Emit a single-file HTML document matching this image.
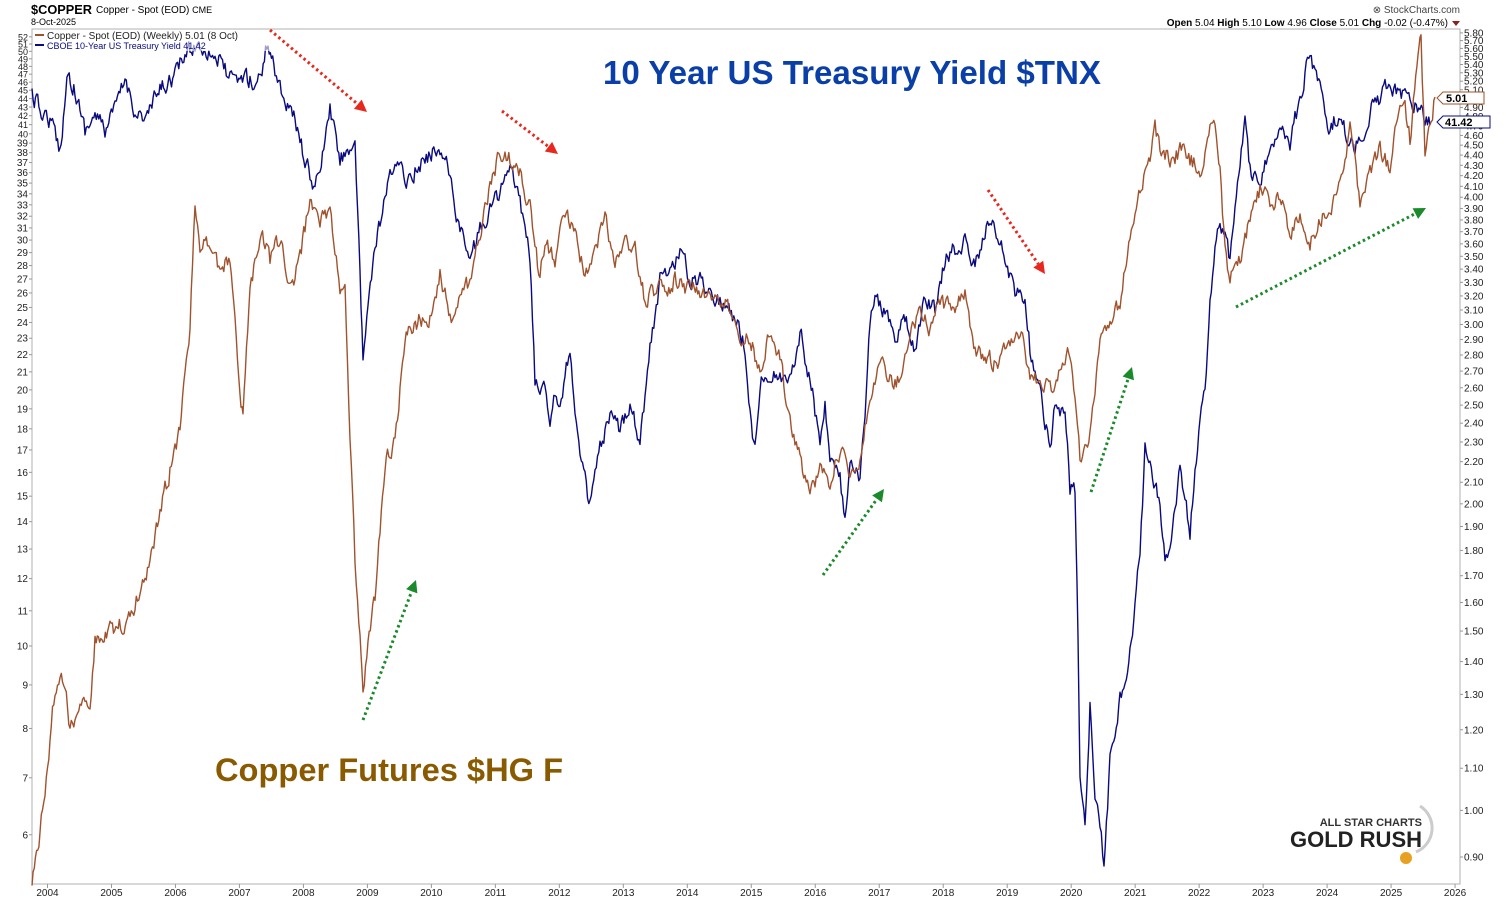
<!DOCTYPE html>
<html><head><meta charset="utf-8">
<style>
html,body{margin:0;padding:0;background:#fff;}
body{width:1506px;height:903px;overflow:hidden;font-family:"Liberation Sans",sans-serif;}
svg text{font-family:"Liberation Sans",sans-serif;}
</style></head><body>
<svg id="c" width="1506" height="903" xmlns="http://www.w3.org/2000/svg">
<rect width="1506" height="903" fill="#fff"/>
<text x="31" y="14" font-size="13" font-weight="bold" textLength="61" lengthAdjust="spacingAndGlyphs">$COPPER</text>
<text x="96" y="13" font-size="10">Copper - Spot (EOD) <tspan font-size="9">CME</tspan></text>
<text x="31" y="25" font-size="9">8-Oct-2025</text>
<text x="1460" y="13" font-size="10" text-anchor="end" fill="#444">⊗ StockCharts.com</text>
<text x="1448" y="26" font-size="10" text-anchor="end"><tspan font-weight="bold">Open</tspan> 5.04 <tspan font-weight="bold">High</tspan> 5.10 <tspan font-weight="bold">Low</tspan> 4.96 <tspan font-weight="bold">Close</tspan> 5.01 <tspan font-weight="bold">Chg</tspan> -0.02 (-0.47%)</text>
<polygon points="1452,21 1460,21 1456,26" fill="#8a2020"/>
<rect x="32" y="29" width="1428" height="855" fill="none" stroke="#b0b0b0" stroke-width="1"/>
<g id="axes" font-size="10" fill="#222"></g>
<g id="series"></g>
<rect x="33" y="31" width="258" height="20" fill="#fff" opacity="0.6"/>
<line x1="35" y1="35" x2="44" y2="35" stroke="#a0522d" stroke-width="2"/>
<text x="47" y="39" font-size="10" fill="#222">Copper - Spot (EOD) (Weekly) 5.01 (8 Oct)</text>
<line x1="35" y1="45" x2="44" y2="45" stroke="#0a0a80" stroke-width="2"/>
<text x="47" y="49" font-size="9" fill="#0a0a80">CBOE 10-Year US Treasury Yield 41.42</text>
<g id="arrows"></g>
<text x="603" y="84" font-size="33" font-weight="bold" fill="#0b3fa8" textLength="498" lengthAdjust="spacingAndGlyphs">10 Year US Treasury Yield $TNX</text>
<text x="215" y="781" font-size="32.5" font-weight="bold" fill="#8a5a00" textLength="348" lengthAdjust="spacingAndGlyphs">Copper Futures $HG F</text>
<text x="1422" y="826" font-size="11" font-weight="bold" fill="#333" text-anchor="end">ALL STAR CHARTS</text>
<text x="1422" y="847" font-size="22" font-weight="bold" fill="#222" text-anchor="end">GOLD RUSH</text>
<path d="M1420,806 A26,26 0 0 1 1416,852" fill="none" stroke="#ccc" stroke-width="3"/>
<circle cx="1406" cy="858" r="6" fill="#e8a020"/>
<polygon points="1437,98 1443,92 1484,92 1484,104 1443,104" fill="#fff" stroke="#a0522d"/>
<text x="1446" y="102" font-size="11" font-weight="bold">5.01</text>
<polygon points="1437,122 1443,116 1490,116 1490,128 1443,128" fill="#fff" stroke="#0a0a80"/>
<text x="1445" y="126" font-size="11" font-weight="bold">41.42</text>
</svg>
<script>
const NS="http://www.w3.org/2000/svg";
function el(t,a,p){const e=document.createElementNS(NS,t);for(const k in a)e.setAttribute(k,a[k]);if(p)p.appendChild(e);return e;}
const ax=document.getElementById('axes');
const L=[52,51,50,49,48,47,46,45,44,43,42,41,40,39,38,37,36,35,34,33,32,31,30,29,28,27,26,25,24,23,22,21,20,19,18,17,16,15,14,13,12,11,10,9,8,7,6];
L.forEach(v=>{const y=646-369.5*Math.log(v/10);el('line',{x1:29,x2:32,y1:y,y2:y,stroke:'#999'},ax);const t=el('text',{x:28,y:y+3.5,'text-anchor':'end','font-size':v>=40?'9':'10'},ax);t.textContent=v;});
const R=[];for(let v=580;v>=90;v-=10){R.push(v/100);}
R.forEach(v=>{const y=857-442.3*Math.log(v/0.9);
 const show=(v<=1.0)?(Math.abs(v-0.9)<1e-6||Math.abs(v-1.0)<1e-6):(v<2.0?Math.abs(v*10-Math.round(v*10))<1e-6:true);
 if(!show)return;
 el('line',{x1:1460,x2:1463,y1:y,y2:y,stroke:'#999'},ax);
 const t=el('text',{x:1464,y:y+3.5,'font-size':'10'},ax);t.textContent=v.toFixed(2);});
for(let yr=2004;yr<=2026;yr++){const x=47.5+(yr-2004)*63.98;el('line',{x1:x,x2:x,y1:884,y2:888,stroke:'#999'},ax);const t=el('text',{x:x,y:896,'text-anchor':'middle','font-size':'10'},ax);t.textContent=yr;}
let seed=12345;function rnd(){seed=(seed*16807)%2147483647;return seed/2147483647;}
function build(pts,amp){let d='';let first=true;let prev=0;
 for(let i=0;i<pts.length-1;i++){const [x0,y0]=pts[i],[x1,y1]=pts[i+1];const n=Math.max(1,Math.round((x1-x0)/1.2));
  for(let j=0;j<n;j++){const f=j/n;const x=x0+(x1-x0)*f;let y=y0+(y1-y0)*f;prev=prev*0.45+(rnd()-0.5)*amp;y+=prev;
   d+=(first?'M':'L')+x.toFixed(1)+','+y.toFixed(1);first=false;}}
 const lp=pts[pts.length-1];d+='L'+lp[0]+','+lp[1];return d;}
const cu=[[32,880],[40,830],[45,790],[50,740],[55,690],[60,672],[65,690],[70,730],[80,700],[90,700],[95,640],[110,630],[130,620],[140,590],[150,560],[160,510],[170,470],[180,430],[190,330],[195,200],[200,250],[210,240],[220,270],[230,260],[235,310],[240,400],[243,420],[250,290],[260,230],[270,260],[280,240],[290,290],[300,260],[310,200],[320,220],[330,210],[340,290],[345,280],[350,440],[355,560],[360,640],[363,700],[368,640],[375,600],[385,460],[395,440],[405,340],[420,320],[430,320],[440,270],[450,320],[460,300],[470,280],[480,230],[490,190],[500,150],[510,160],[520,170],[530,210],[540,280],[545,240],[555,260],[565,210],[575,230],[585,280],[595,250],[605,220],[615,260],[625,240],[635,250],[645,300],[655,290],[665,290],[675,280],[685,290],[700,290],[715,300],[730,310],[740,340],[750,340],[760,370],[770,330],[780,360],[790,420],[800,460],[810,490],[820,470],[830,480],[840,450],[850,470],[860,460],[870,390],[880,360],[890,380],[900,380],[910,340],[920,310],[930,330],[940,300],[950,310],[960,300],[965,290],[975,350],[985,360],[1000,360],[1010,340],[1020,330],[1030,380],[1040,380],[1050,390],[1060,370],[1070,350],[1080,460],[1090,430],[1100,350],[1110,320],[1120,300],[1125,270],[1130,240],[1140,190],[1150,160],[1155,130],[1160,150],[1170,160],[1180,150],[1190,160],[1200,170],[1210,130],[1215,120],[1220,170],[1225,250],[1230,280],[1240,260],[1250,220],[1260,190],[1270,200],[1280,200],[1290,230],[1300,220],[1310,240],[1320,220],[1330,210],[1340,180],[1350,130],[1355,160],[1360,200],[1370,170],[1380,150],[1390,170],[1395,120],[1405,110],[1410,140],[1418,60],[1421,36],[1425,150],[1430,130],[1435,97]];
const tn=[[32,95],[40,110],[50,120],[60,150],[68,70],[75,90],[85,130],[95,115],[105,130],[115,110],[125,80],[135,110],[145,120],[160,90],[175,75],[185,55],[195,45],[205,48],[215,55],[225,70],[235,85],[245,75],[255,85],[262,70],[268,40],[275,70],[285,100],[295,120],[305,160],[315,190],[320,170],[330,110],[340,160],[350,145],[355,150],[360,280],[363,365],[368,300],[375,250],[385,200],[395,160],[405,180],[415,170],[425,160],[435,150],[445,150],[450,180],[460,230],[470,260],[480,230],[490,210],[500,190],[510,170],[520,200],[530,260],[535,380],[540,400],[545,380],[550,420],[555,390],[560,400],[570,350],[580,460],[590,505],[600,450],[610,420],[620,430],[630,400],[640,440],[650,350],[660,280],[670,270],[680,250],[690,280],[700,280],[710,290],[720,300],[730,310],[740,330],[745,350],[750,410],[755,450],[760,380],[770,370],[780,380],[790,380],[800,330],[810,380],[820,440],[825,400],[830,460],[840,480],[845,520],[850,470],[860,480],[865,420],[870,320],[875,300],[885,310],[895,340],[905,320],[915,350],[925,300],[935,310],[945,260],[955,250],[965,240],[975,270],[985,230],[990,215],[995,230],[1005,260],[1015,290],[1025,300],[1030,350],[1040,390],[1045,420],[1050,450],[1055,400],[1060,420],[1065,410],[1070,490],[1075,490],[1078,640],[1080,780],[1085,830],[1090,700],[1095,800],[1100,820],[1104,870],[1110,760],[1115,740],[1120,700],[1125,680],[1130,650],[1135,610],[1140,550],[1145,450],[1150,470],[1160,500],[1165,560],[1170,550],[1180,470],[1190,530],[1200,420],[1205,390],[1210,300],[1215,250],[1220,220],[1225,240],[1230,260],[1240,160],[1245,120],[1250,170],[1260,190],[1270,150],[1280,120],[1290,140],[1300,100],[1305,70],[1310,60],[1320,80],[1330,130],[1340,110],[1350,150],[1360,140],[1370,110],[1380,100],[1390,80],[1400,100],[1410,95],[1420,110],[1430,125]];
const sg=document.getElementById('series');
el('path',{d:build(tn,16),fill:'none',stroke:'#0a0a80','stroke-width':1.4,'stroke-linejoin':'round'},sg);
el('path',{d:build(cu,16),fill:'none',stroke:'#a0522d','stroke-width':1.4,'stroke-linejoin':'round'},sg);
const ar=document.getElementById('arrows');
function arrow(x0,y0,x1,y1,c){const a=Math.atan2(y1-y0,x1-x0);const bx=x1-12*Math.cos(a),by=y1-12*Math.sin(a);
 el('line',{x1:x0,y1:y0,x2:bx,y2:by,stroke:c,'stroke-width':3,'stroke-dasharray':'2.5,3'},ar);
 const p=[[x1,y1],[bx-6*Math.sin(a),by+6*Math.cos(a)],[bx+6*Math.sin(a),by-6*Math.cos(a)]];
 el('polygon',{points:p.map(q=>q.join(',')).join(' '),fill:c},ar);}
const RED='#e8281e',GRN='#1a8a2a';
arrow(270,30,367,112,RED);arrow(502,111,558,154,RED);arrow(988,190,1045,274,RED);
arrow(363,720,416,580,GRN);arrow(823,575,884,489,GRN);arrow(1091,492,1132,367,GRN);arrow(1236,307,1426,208,GRN);
</script>
</body></html>
